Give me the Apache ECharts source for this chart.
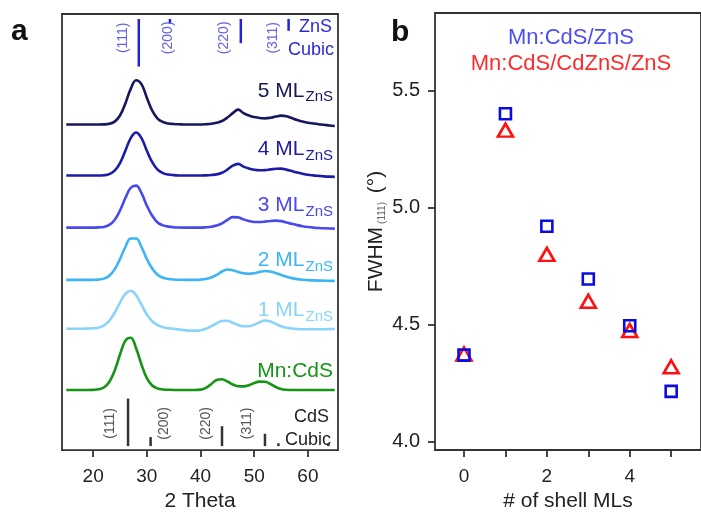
<!DOCTYPE html>
<html>
<head>
<meta charset="utf-8">
<script src="https://cdn.jsdelivr.net/npm/echarts@6/dist/echarts.min.js"></script>
<style>
  html, body { margin: 0; padding: 0; background: #fff; }
  #myCharts { width: 701px; height: 517px; }
</style>
</head>
<body>
<div id="myCharts"></div>
<script>
// ---- panel a : XRD patterns (intensity above each trace's own baseline) ----
const twoTheta = [15,16,17,18,19,20,21,22,23,24,25,26,27,28,29,30,31,32,33,34,35,36,37,38,39,40,
  41,42,43,44,45,46,47,48,49,50,51,52,53,54,55,56,57,58,59,60,61,62,63,64,65];

const xrd5ML = [0,0,0,0,0,0,0,0.1,0.7,2.9,9.1,21.2,36,44.7,40.7,27.1,14,6,2.5,1,0.5,0.2,0,0,0,0,
  0.3,0.8,1.8,3.5,7,11.5,15,11.5,9,7.5,6.5,6.2,6.8,8,9,8.3,6.5,4.5,3,1.8,1,0.3,-0.3,-1,-1.5];
const xrd4ML = [0,0,0,0,0,0,0,0.3,1.4,4.9,12.6,25.1,37.8,43.4,37.8,25.1,13.5,6,2.5,1,0.4,0.1,0,0,0,0,
  0.2,0.6,1.2,2.8,6,10,11.8,9,7,5.8,5.3,5.5,6.2,6.9,7,6,4.5,3,1.8,0.8,0.2,-0.3,-0.8,-1.1,-1.3];
const xrd3ML = [0,0,0,0,0,0,0.2,0.7,2.7,7.7,17.2,29.8,40.2,42.3,34.7,22.1,12,5.2,2.2,1,0.4,0.1,0,0,0,0,
  0.3,0.8,2,4.2,7.8,10.6,10.3,8.3,6.7,5.7,5.6,6,6.7,7,6.5,5.2,3.8,2.5,1.4,0.6,0,-0.4,-0.7,-0.9,-1];
const xrd2ML = [0,0,0,0,0,0.1,0.3,1.3,4.2,10.6,21,33.2,41.8,41.8,33.2,21,11.5,5.2,2.2,1,0.4,0.1,0,0,0,
  0.3,1,2.5,5,8.5,10.5,9.8,8,6.8,6.3,6.8,8,9,8.5,7,5,3.2,1.8,0.8,0.2,-0.2,-0.5,-0.7,-0.8,-1,-1];
const xrd1ML = [0,0,0,0,0.1,0.3,1,3.2,8,16.1,26.4,35.2,38.3,33.8,24.3,14.2,7.5,3.5,1.5,0.5,0,
  -0.8,-1.5,-2,-2,-1.5,0,2.5,5.5,7.8,8,6,3.8,2.4,2.5,4,6.5,8.2,7.2,4.8,2.5,1,0.2,-0.3,-0.5,-0.5,-0.5,-0.5,-0.5,-0.4,-0.3];
const xrdMnCdS = [0,0,0,0,0,0.1,0.6,2.5,8,19.4,35.7,49.8,52.7,42.1,25.6,12,4.5,1.5,0.5,0.2,0,0,0,0,0,
  0.3,2,6,10,10.8,8.5,5.5,3.8,3.6,4.8,7,8.4,8.2,6,3,1,0.2,0,0,0,0,0,0,0,0,0];

const traces = [xrd5ML, xrd4ML, xrd3ML, xrd2ML, xrd1ML, xrdMnCdS];
const traceOffsets = [328.5, 277, 224.5, 171.7, 122.5, 60.7];
const traceLabels = ["5 ML", "4 ML", "3 ML", "2 ML", "1 ML", "Mn:CdS"];
const traceColors = ["#17175e", "#1b1ba8", "#4848ef", "#3db4f4", "#8ad3fa", "#159515"];
const traceLabelY = [91, 149.5, 205.5, 260.5, 310.5, 371];

// reference patterns
const znsPeaks = [28.5, 34.3, 47.5, 56.4];
const znsIntensity = [100, 10, 51, 25];
const znsHkl = ["(111)", "(200)", "(220)", "(311)"];
const znsHklAt = [25.6, 33.9, 44.4, 53.5];
const cdsPeaks = [26.5, 30.7, 44.0, 52.0, 54.5, 63.8];
const cdsIntensity = [100, 19, 42, 26, 6, 6];
const cdsHkl = ["(111)", "(200)", "(220)", "(311)"];
const cdsHklAt = [23.1, 33.2, 41.1, 48.6];
const thetaTicks = [20, 30, 40, 50, 60];

// ---- panel b : FWHM of the (111) peak ----
const shellML = [0, 1, 2, 3, 4, 5];
const fwhmZnS = [4.37, 5.40, 4.92, 4.695, 4.495, 4.215];
const fwhmCdZnS = [4.375, 5.33, 4.80, 4.60, 4.475, 4.32];
const shellTicks = [0, 1, 2, 3, 4, 5];
const shellLabels = [0, 2, 4];
const fwhmTicks = [4.0, 4.5, 5.0, 5.5];

const FONT = "Liberation Sans, Arial, Helvetica, sans-serif";
const stickScale = 0.48;

const myCharts = echarts.init(document.getElementById("myCharts"));

function stickSeries(peaks, intensity, anchor, dir, color) {
  return {
    type: "custom",
    xAxisIndex: 0,
    yAxisIndex: 0,
    silent: true,
    data: peaks.map((p, i) => [p, intensity[i]]),
    renderItem: function (params, api) {
      const a = api.coord([api.value(0), anchor]);
      const b = api.coord([api.value(0), anchor + dir * api.value(1) * stickScale]);
      return {
        type: "line",
        shape: { x1: a[0], y1: a[1], x2: b[0], y2: b[1] },
        style: { stroke: color, lineWidth: 2.5 },
      };
    },
  };
}

function hklSeries(at, labels, yVal, color) {
  return {
    type: "custom",
    xAxisIndex: 0,
    yAxisIndex: 0,
    silent: true,
    data: at.map((x) => [x, yVal]),
    renderItem: function (params, api) {
      const p = api.coord([api.value(0), api.value(1)]);
      return {
        type: "text",
        x: p[0],
        y: p[1],
        rotation: Math.PI / 2,
        style: {
          text: labels[params.dataIndex],
          font: "14px " + FONT,
          fill: color,
          align: "center",
          verticalAlign: "middle",
        },
      };
    },
  };
}

const series = [];
traces.forEach((vals, k) => {
  series.push({
    name: traceLabels[k],
    type: "line",
    xAxisIndex: 0,
    yAxisIndex: 0,
    smooth: 0.4,
    showSymbol: false,
    silent: true,
    lineStyle: { color: traceColors[k], width: 2.6 },
    data: twoTheta.map((x, i) => [x, traceOffsets[k] + vals[i]]),
  });
});
series.push(stickSeries(znsPeaks, znsIntensity, 435, -1, "#2323d6"));
series.push(stickSeries(cdsPeaks, cdsIntensity, 4, 1, "#333"));
series.push(hklSeries(znsHklAt, znsHkl, 416, "#6363e2"));
series.push(hklSeries(cdsHklAt, cdsHkl, 27, "#555"));

series.push({
  name: "Mn:CdS/CdZnS/ZnS",
  type: "scatter",
  xAxisIndex: 1,
  yAxisIndex: 1,
  symbol: "triangle",
  symbolSize: [15, 13],
  itemStyle: { color: "rgba(0,0,0,0)", borderColor: "#ff0f0f", borderWidth: 2.6, opacity: 1 },
  data: shellML.map((x, i) => [x, fwhmCdZnS[i]]),
});
series.push({
  name: "Mn:CdS/ZnS",
  type: "scatter",
  xAxisIndex: 1,
  yAxisIndex: 1,
  symbol: "rect",
  symbolSize: 11,
  itemStyle: { color: "rgba(0,0,0,0)", borderColor: "#0c0ce2", borderWidth: 2.6, opacity: 1 },
  data: shellML.map((x, i) => [x, fwhmZnS[i]]),
});

// curve labels with ZnS subscript
const graphic = traceLabels.map((t, k) => ({
  type: "text",
  x: 333,
  y: traceLabelY[k],
  silent: true,
  style: {
    text: k < 5 ? "{m|" + t + "}{s|ZnS}" : "{m|" + t + "}",
    align: "right",
    verticalAlign: "middle",
    fill: traceColors[k],
    rich: {
      m: { fontSize: 21, fontFamily: FONT, fill: traceColors[k] },
      s: { fontSize: 15, fontFamily: FONT, fill: traceColors[k], padding: [12, 0, 0, 1] },
    },
  },
}));

function plainText(txt, x, y, size, color, align, weight) {
  return {
    type: "text",
    x: x,
    y: y,
    silent: true,
    style: {
      text: txt,
      font: (weight || "normal") + " " + size + "px " + FONT,
      fill: color,
      align: align,
      verticalAlign: "middle",
    },
  };
}

graphic.push(plainText("ZnS", 332, 27, 18, "#2a2ad8", "right"));
graphic.push(plainText("Cubic", 334, 50, 18, "#2a2ad8", "right"));
graphic.push(plainText("CdS", 329, 417, 18, "#222", "right"));
graphic.push(plainText("Cubic", 331, 440, 18, "#222", "right"));
graphic.push(plainText("a", 11, 32, 30, "#111", "left", "bold"));
graphic.push(plainText("b", 391, 33, 30, "#111", "left", "bold"));
graphic.push(plainText("Mn:CdS/ZnS", 571, 38, 22, "#4d4df5", "center"));
graphic.push(plainText("Mn:CdS/CdZnS/ZnS", 571, 64, 22, "#ff2a2a", "center"));

const option = {
  animation: false,
  backgroundColor: "#fff",
  grid: [
    { left: 62, right: 363, top: 14, bottom: 63, show: true, borderColor: "#333", borderWidth: 1.8 },
    { left: 435, right: -10, top: 13, bottom: 63.5, show: true, borderColor: "#333", borderWidth: 1.8 },
  ],
  xAxis: [
    {
      type: "value",
      gridIndex: 0,
      min: 14.2,
      max: 65.6,
      name: "2 Theta",
      nameLocation: "middle",
      nameGap: 40,
      nameTextStyle: { fontSize: 21, color: "#222", fontFamily: FONT },
      axisLine: { show: false, onZero: false },
      splitLine: { show: false },
      axisTick: { show: true, inside: false, length: 7, customValues: thetaTicks, lineStyle: { color: "#333", width: 1.8 } },
      axisLabel: { customValues: thetaTicks, fontSize: 19, color: "#222", fontFamily: FONT, margin: 17 },
    },
    {
      type: "value",
      gridIndex: 1,
      min: -0.7,
      max: 5.72,
      name: "# of shell MLs",
      nameLocation: "middle",
      nameGap: 41,
      nameTextStyle: { fontSize: 21, color: "#222", fontFamily: FONT },
      axisLine: { show: false, onZero: false },
      splitLine: { show: false },
      axisTick: { show: true, inside: false, length: 7, customValues: shellTicks, lineStyle: { color: "#333", width: 1.8 } },
      axisLabel: { customValues: shellLabels, fontSize: 19, color: "#222", fontFamily: FONT, margin: 17 },
    },
  ],
  yAxis: [
    {
      type: "value",
      gridIndex: 0,
      min: 0,
      max: 440,
      axisLine: { show: false, onZero: false },
      axisTick: { show: false },
      axisLabel: { show: false },
      splitLine: { show: false },
    },
    {
      type: "value",
      gridIndex: 1,
      min: 3.965,
      max: 5.83,
      name: "FWHM{s|(111)} (°)",
      nameLocation: "middle",
      nameGap: 48,
      nameTextStyle: {
        fontSize: 21,
        color: "#222",
        fontFamily: FONT,
        rich: { s: { fontSize: 10, color: "#666", fontFamily: FONT, padding: [12, 3, 0, 3] } },
      },
      axisLine: { show: false, onZero: false },
      splitLine: { show: false },
      axisTick: { show: true, inside: false, length: 7, customValues: fwhmTicks, lineStyle: { color: "#333", width: 1.8 } },
      axisLabel: {
        customValues: fwhmTicks,
        fontSize: 20,
        color: "#222",
        fontFamily: FONT,
        margin: 15,
        formatter: (v) => v.toFixed(1),
      },
    },
  ],
  graphic: graphic,
  series: series,
};

myCharts.setOption(option);
</script>
</body>
</html>
